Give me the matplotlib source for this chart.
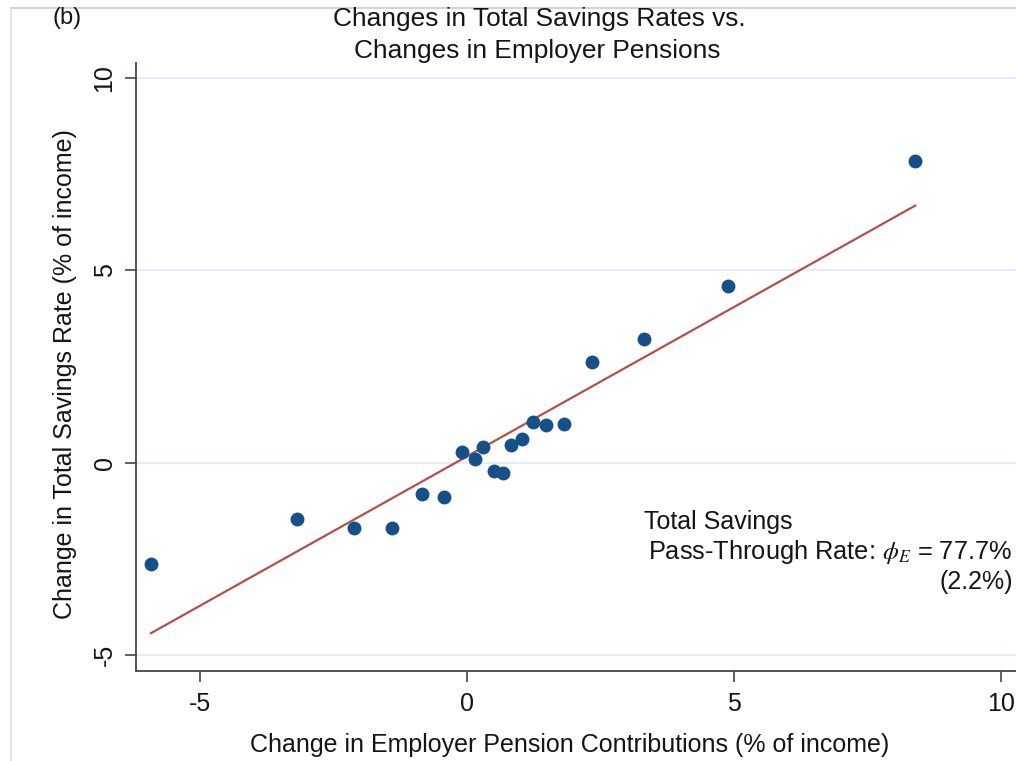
import matplotlib
matplotlib.use("Agg")
import matplotlib.pyplot as plt
from matplotlib.lines import Line2D
import numpy as np

plt.rcParams['font.family'] = ['Liberation Sans', 'DejaVu Sans']
plt.rcParams['mathtext.fontset'] = 'stix'
plt.rcParams['axes.unicode_minus'] = False

# Data
pension_change = [-5.91, -3.17, -2.12, -1.40, -0.84, -0.42, -0.09, 0.16, 0.31, 0.51,
                  0.67, 0.83, 1.03, 1.23, 1.48, 1.82, 2.34, 3.32, 4.89, 8.39]
savings_change = [-2.63, -1.45, -1.69, -1.69, -0.82, -0.88, 0.27, 0.10, 0.41, -0.20,
                  -0.27, 0.46, 0.61, 1.05, 0.98, 1.01, 2.62, 3.22, 4.59, 7.84]
fit_slope = 0.777
fit_intercept = 0.165
x_ticks = [-5, 0, 5, 10]
y_ticks = [-5, 0, 5, 10]

TXT = '#151515'

fig = plt.figure(figsize=(10.16, 7.61), dpi=100)
ax = fig.add_axes([136/1016, 90/761, 886.7/1016, 608/761])
ax.set_xlim(-6.19, 10.4)
ax.set_ylim(-5.41, 10.39)

for yt in y_ticks:
    ax.axhline(yt, color='#e3eef6', lw=1.6, zorder=0)

xs = np.array([min(pension_change), max(pension_change)])
ax.plot(xs, fit_intercept + fit_slope * xs, color='#b4504b', lw=1.6, zorder=2)
ax.scatter(pension_change, savings_change, s=100, color='#175086', zorder=3, linewidths=0)

for side in ['top', 'right']:
    ax.spines[side].set_visible(False)
for side in ['left', 'bottom']:
    ax.spines[side].set_color('#444444')
    ax.spines[side].set_linewidth(1.3)

ax.set_xticks(x_ticks)
ax.set_yticks(y_ticks)
ax.set_yticklabels([str(v) for v in y_ticks], rotation=90, va='center')
ax.tick_params(axis='both', direction='out', length=8, width=1.2, color='#444444',
               labelsize=18, labelcolor=TXT, pad=7)
ax.tick_params(axis='y', pad=6)

fig.text(570/1016, 1 - 745/761, 'Change in Employer Pension Contributions (% of income)',
         ha='center', va='center', fontsize=18, color=TXT)
fig.text(65/1016, 1 - 374/761, 'Change in Total Savings Rate (% of income)',
         ha='center', va='center', rotation=90, fontsize=18, color=TXT)

fig.text(539/1016, 1 - 19/761, 'Changes in Total Savings Rates vs.', ha='center', va='center',
         fontsize=18.9, color=TXT)
fig.text(537/1016, 1 - 51/761, 'Changes in Employer Pensions',
         ha='center', va='center', fontsize=18.9, color=TXT)
fig.text(52/1016, 1 - 18/761, '(b)', ha='left', va='center', fontsize=17, color=TXT)

fig.text(644/1016, 1 - 522/761, 'Total Savings', ha='left', va='center', fontsize=18, color=TXT)
fig.text(648/1016, 1 - 552/761, r'Pass-Through Rate: $\phi_E$ = 77.7%', ha='left', va='center',
         fontsize=18.3, color=TXT)
fig.text(1013/1016, 1 - 582/761, '(2.2%)', ha='right', va='center', fontsize=18, color=TXT)

# outer frame lines
fig.add_artist(Line2D([11/1016, 1], [1 - 8/761, 1 - 8/761], transform=fig.transFigure,
                      color='#cccccc', lw=1.2))
fig.add_artist(Line2D([11/1016, 11/1016], [0, 1 - 8/761], transform=fig.transFigure,
                      color='#dddddd', lw=1.2))

fig.savefig('out.png', dpi=100)
